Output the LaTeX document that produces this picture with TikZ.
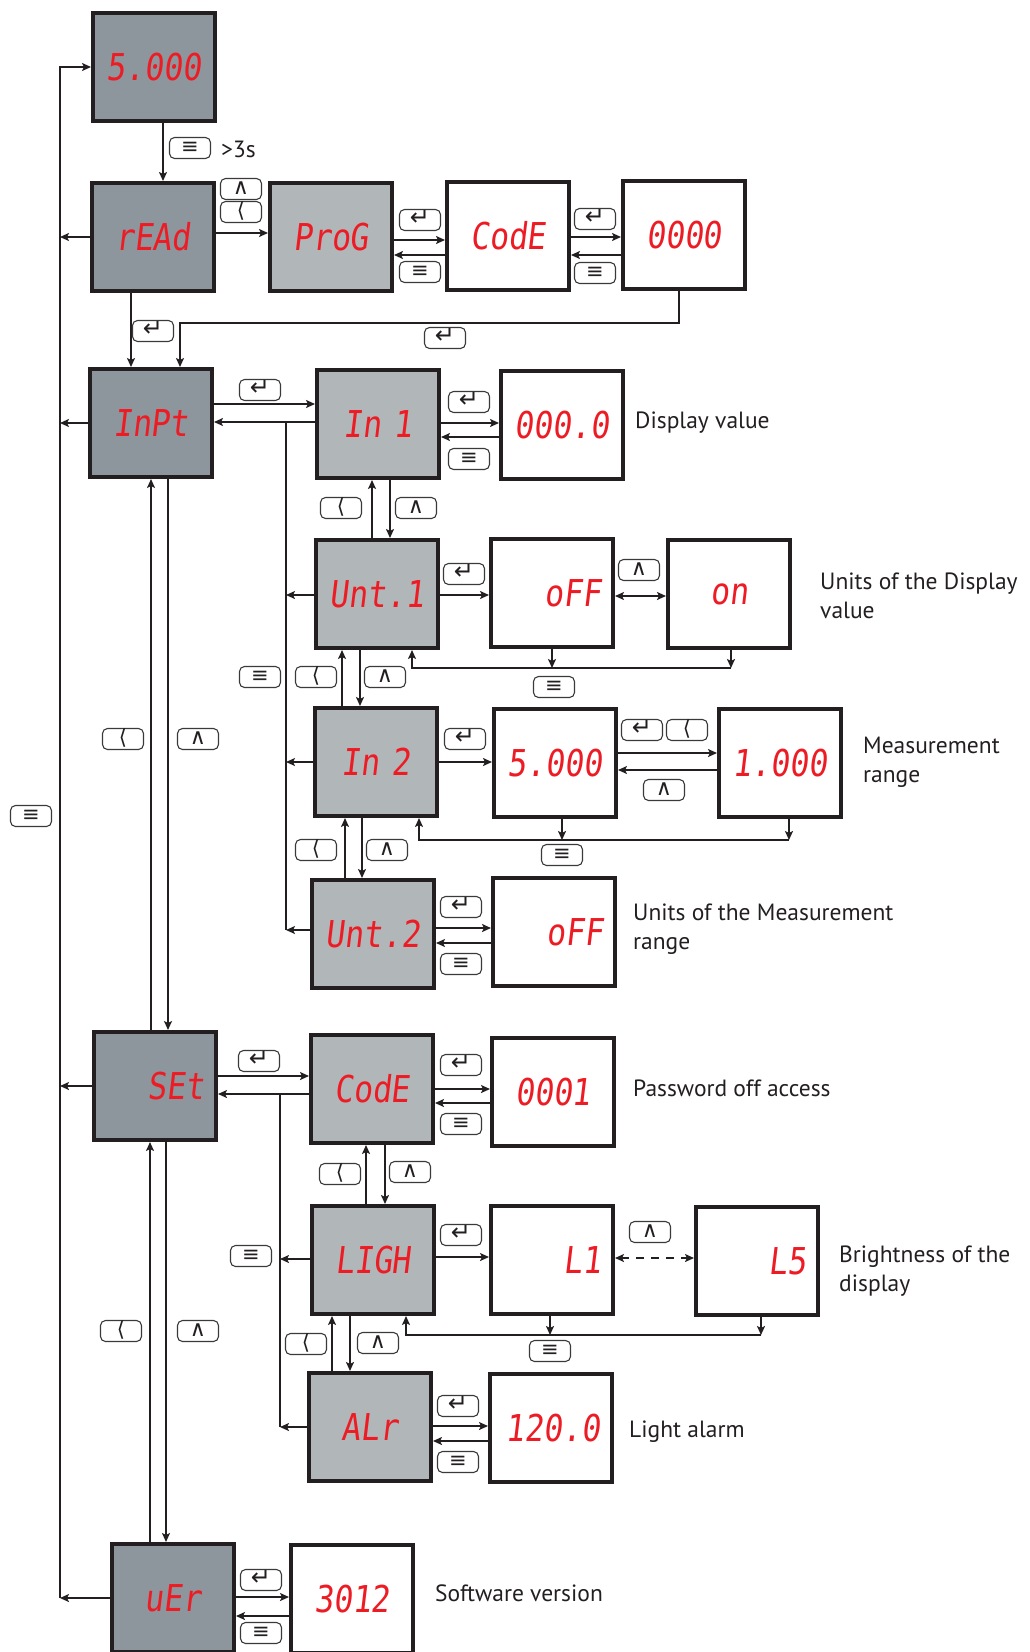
\documentclass[tikz,border=0pt]{standalone}
\usepackage{fontspec}
\setmainfont{PT Sans}
\newfontfamily\segfamily{DejaVu Sans Mono}[FakeStretch=0.85,FakeSlant=0.12]
\newfontfamily\keyfamily{DejaVu Sans}
\usepackage{tikz}
\usetikzlibrary{arrows.meta}
\definecolor{LineDark}{HTML}{231F20}
\definecolor{PanelDark}{HTML}{8D969D}
\definecolor{PanelLight}{HTML}{B1B6B9}
\definecolor{SegRed}{HTML}{ED1C24}
\definecolor{KeyEdge}{HTML}{3A3A3A}
\newcommand{\segfont}{\segfamily\fontsize{37}{37}\selectfont}
\newcommand{\keyfont}{\keyfamily\fontsize{19}{19}\selectfont}
\newcommand{\notefont}{\fontsize{23.5}{29}\selectfont}
\newcommand{\kmenu}{{\fontsize{21}{21}\selectfont ≡}}
\newcommand{\kenter}{{\fontsize{24}{24}\selectfont ↵}}
\newcommand{\kup}{{\fontsize{22}{22}\selectfont ∧}}
\newcommand{\kleft}{{\fontsize{21}{21}\selectfont ⟨}}

\begin{document}
\begin{tikzpicture}[
  x=1pt, y=-1pt,
  >={Stealth[length=9pt,width=8pt,inset=2pt]},
  box/.style={draw=LineDark, line width=4pt, minimum width=122pt, minimum height=108pt,
    text width=98pt, inner xsep=12pt, align=center, font=\segfont, text=SegRed, fill=white},
  topbox/.style={box, fill=PanelDark},
  subbox/.style={box, fill=PanelLight},
  key/.style={draw=KeyEdge, line width=1.1pt, rounded corners=5pt, minimum width=41pt,
    minimum height=21pt, text height=10pt, text depth=0pt, inner sep=0pt, font=\keyfont, text=LineDark, fill=white},
  arrow/.style={->, line width=1.8pt, draw=LineDark},
  twoway/.style={<->, line width=1.8pt, draw=LineDark},
  note/.style={anchor=west, align=left, inner sep=0pt, font=\notefont, text=LineDark}
]
\useasboundingbox (0,0) rectangle (1029,1652);

\node[topbox] (s5000) at (154,67) {5.000};
\node[topbox] (rEAd) at (153,237) {rEAd};
\node[subbox] (ProG) at (331,237) {ProG};
\node[box] (CodEa) at (508,236) {CodE};
\node[box] (pass) at (684,235) {0000};

\node[topbox] (InPt) at (151,423) {InPt};
\node[subbox] (InA) at (378,424) {In 1};
\node[box] (dispv) at (562,425) {000.0};
\node[subbox] (UntA) at (377,594) {Unt.1};
\node[box, align=right] (offA) at (552,593) {oFF};
\node[box] (onA) at (729,594) {on};
\node[subbox] (InB) at (376,762) {In 2};
\node[box] (rngA) at (555,763) {5.000};
\node[box] (rngB) at (780,763) {1.000};
\node[subbox] (UntB) at (373,934) {Unt.2};
\node[box, align=right] (offB) at (554,932) {oFF};

\node[topbox, align=right] (SEt) at (155,1086) {SEt};
\node[subbox] (CodEb) at (372,1089) {CodE};
\node[box] (pw) at (553,1092) {0001};
\node[subbox] (LIGH) at (373,1260) {LIGH};
\node[box, align=right] (lvA) at (552,1260) {L1};
\node[box, align=right] (lvB) at (757,1261) {L5};
\node[subbox] (ALr) at (370,1427) {ALr};
\node[box, align=right] (alm) at (551,1428) {120.0};

\node[topbox] (uEr) at (173,1598) {uEr};
\node[box] (ver) at (352,1599) {3012};

% return line on the left
\coordinate (back) at (60,0);
\draw[arrow] (uEr.west) -- (uEr.west -| back);
\draw[arrow] (uEr.west -| back) -- (back |- s5000.west) -- (s5000.west);
\draw[arrow] (rEAd.west) -- (rEAd.west -| back);
\draw[arrow] (InPt.west) -- (InPt.west -| back);
\draw[arrow] (SEt.west) -- (SEt.west -| back);

\draw[arrow] (163,0 |- s5000.south) -- (163,0 |- rEAd.north);
\draw[arrow] (rEAd.east |- 0,233) -- (ProG.west |- 0,233);
\draw[arrow] (ProG.east |- 0,240) -- (CodEa.west |- 0,240);
\draw[arrow] (CodEa.west |- 0,255) -- (ProG.east |- 0,255);
\draw[arrow] (CodEa.east |- 0,237) -- (pass.west |- 0,237);
\draw[arrow] (pass.west |- 0,255) -- (CodEa.east |- 0,255);
\coordinate (busA) at (180,323);
\draw[arrow] (679,0 |- pass.south) |- (busA) -- (busA |- InPt.north);
\draw[arrow] (131,0 |- rEAd.south) -- (131,0 |- InPt.north);

% input menu
\draw[arrow] (InPt.east |- 0,404) -- (InA.west |- 0,404);
\draw[arrow] (InA.west |- 0,422) -- (InPt.east |- 0,422);
\coordinate (busB) at (286,422);
\draw[line width=1.8pt, LineDark] (busB) -- (busB |- 0,930);
\draw[arrow] (InA.east |- 0,423) -- (dispv.west |- 0,423);
\draw[arrow] (dispv.west |- 0,437) -- (InA.east |- 0,437);
\draw[arrow] (372,0 |- UntA.north) -- (372,0 |- InA.south);
\draw[arrow] (390,0 |- InA.south) -- (390,0 |- UntA.north);
\draw[arrow] (UntA.west |- 0,595) -- (busB |- 0,595);
\draw[arrow] (UntA.east |- 0,595) -- (offA.west |- 0,595);
\draw[twoway] (offA.east |- 0,596) -- (onA.west |- 0,596);
\coordinate (retA) at (412,668);
\draw[arrow] (offA.south) -- (offA.south |- retA);
\draw[arrow] (731,0 |- onA.south) -- (731,0 |- retA);
\draw[arrow] (731,0 |- retA) -- (retA) -- (retA |- UntA.south);
\draw[arrow] (342,0 |- InB.north) -- (342,0 |- UntA.south);
\draw[arrow] (360,0 |- UntA.south) -- (360,0 |- InB.north);
\draw[arrow] (InB.west |- 0,762) -- (busB |- 0,762);
\draw[arrow] (InB.east |- 0,762) -- (rngA.west |- 0,762);
\draw[arrow] (rngA.east |- 0,753) -- (rngB.west |- 0,753);
\draw[arrow] (rngB.west |- 0,770) -- (rngA.east |- 0,770);
\coordinate (retB) at (419,840);
\draw[arrow] (562,0 |- rngA.south) -- (562,0 |- retB);
\draw[arrow] (789,0 |- rngB.south) -- (789,0 |- retB);
\draw[arrow] (789,0 |- retB) -- (retB) -- (retB |- InB.south);
\draw[arrow] (345,0 |- UntB.north) -- (345,0 |- InB.south);
\draw[arrow] (362,0 |- InB.south) -- (362,0 |- UntB.north);
\draw[arrow] (UntB.west |- 0,930) -- (busB |- 0,930);
\draw[arrow] (UntB.east |- 0,928) -- (offB.west |- 0,928);
\draw[arrow] (offB.west |- 0,943) -- (UntB.east |- 0,943);

\draw[arrow] (151,0 |- SEt.north) -- (151,0 |- InPt.south);
\draw[arrow] (168,0 |- InPt.south) -- (168,0 |- SEt.north);

% setup menu
\draw[arrow] (SEt.east |- 0,1076) -- (CodEb.west |- 0,1076);
\draw[arrow] (CodEb.west |- 0,1094) -- (SEt.east |- 0,1094);
\coordinate (busC) at (280,1094);
\draw[line width=1.8pt, LineDark] (busC) -- (busC |- 0,1427);
\draw[arrow] (CodEb.east |- 0,1089) -- (pw.west |- 0,1089);
\draw[arrow] (pw.west |- 0,1103) -- (CodEb.east |- 0,1103);
\draw[arrow] (366,0 |- LIGH.north) -- (366,0 |- CodEb.south);
\draw[arrow] (385,0 |- CodEb.south) -- (385,0 |- LIGH.north);
\draw[arrow] (LIGH.west |- 0,1259) -- (busC |- 0,1259);
\draw[arrow] (LIGH.east |- 0,1257) -- (lvA.west |- 0,1257);
\draw[twoway, line width=2.4pt, dash pattern=on 8pt off 7pt] (lvA.east |- 0,1258) -- (lvB.west |- 0,1258);
\coordinate (retC) at (406,1335);
\draw[arrow] (550,0 |- lvA.south) -- (550,0 |- retC);
\draw[arrow] (761,0 |- lvB.south) -- (761,0 |- retC);
\draw[arrow] (761,0 |- retC) -- (retC) -- (retC |- LIGH.south);
\draw[arrow] (332,0 |- ALr.north) -- (332,0 |- LIGH.south);
\draw[arrow] (350,0 |- LIGH.south) -- (350,0 |- ALr.north);
\draw[arrow] (ALr.west |- 0,1427) -- (busC |- 0,1427);
\draw[arrow] (ALr.east |- 0,1426) -- (alm.west |- 0,1426);
\draw[arrow] (alm.west |- 0,1441) -- (ALr.east |- 0,1441);

\draw[arrow] (150,0 |- uEr.north) -- (150,0 |- SEt.south);
\draw[arrow] (166,0 |- SEt.south) -- (166,0 |- uEr.north);
\draw[arrow] (uEr.east |- 0,1597) -- (ver.west |- 0,1597);
\draw[arrow] (ver.west |- 0,1616) -- (uEr.east |- 0,1616);

% keys
\node[key] (hold) at (190,148) {\kmenu};
\node[key] (upProg) at (241,189) {\kup};
\node[key] (leftProg) at (241,212) {\kleft};
\node[key] (enterCodeA) at (420,220) {\kenter};
\node[key] (menuCodeA) at (420,272) {\kmenu};
\node[key] (enterPass) at (595,219) {\kenter};
\node[key] (menuPass) at (595,273) {\kmenu};
\node[key] (enterInpt) at (153,331) {\kenter};
\node[key] (enterBack) at (445,338) {\kenter};
\node[key] (enterInA) at (260,390) {\kenter};
\node[key] (enterDisp) at (469,402) {\kenter};
\node[key] (menuDisp) at (469,459) {\kmenu};
\node[key] (leftUntA) at (341,508) {\kleft};
\node[key] (upUntA) at (416,508) {\kup};
\node[key] (enterOffA) at (464,574) {\kenter};
\node[key] (upOn) at (639,570) {\kup};
\node[key] (menuOffA) at (554,687) {\kmenu};
\node[key] (menuInpt) at (260,677) {\kmenu};
\node[key] (leftInB) at (316,677) {\kleft};
\node[key] (upInB) at (385,677) {\kup};
\node[key] (enterRngA) at (465,739) {\kenter};
\node[key] (enterRngB) at (642,730) {\kenter};
\node[key] (leftRngB) at (687,730) {\kleft};
\node[key] (upRngA) at (664,790) {\kup};
\node[key] (menuRng) at (562,855) {\kmenu};
\node[key] (leftUntB) at (316,850) {\kleft};
\node[key] (upUntB) at (387,850) {\kup};
\node[key] (enterOffB) at (461,907) {\kenter};
\node[key] (menuOffB) at (461,964) {\kmenu};
\node[key] (leftSet) at (123,739) {\kleft};
\node[key] (upSet) at (198,739) {\kup};
\node[key] (menuHome) at (31,816) {\kmenu};
\node[key] (enterCodeB) at (259,1061) {\kenter};
\node[key] (enterPw) at (461,1065) {\kenter};
\node[key] (menuPw) at (461,1124) {\kmenu};
\node[key] (leftLigh) at (340,1174) {\kleft};
\node[key] (upLigh) at (410,1172) {\kup};
\node[key] (menuSet) at (251,1256) {\kmenu};
\node[key] (enterLvA) at (461,1235) {\kenter};
\node[key] (upLvB) at (650,1232) {\kup};
\node[key] (menuLv) at (550,1351) {\kmenu};
\node[key] (leftAlr) at (306,1344) {\kleft};
\node[key] (upAlr) at (378,1343) {\kup};
\node[key] (enterAlm) at (458,1406) {\kenter};
\node[key] (menuAlm) at (458,1462) {\kmenu};
\node[key] (leftVer) at (121,1331) {\kleft};
\node[key] (upVer) at (198,1331) {\kup};
\node[key] (enterVer) at (261,1580) {\kenter};
\node[key] (menuVer) at (261,1633) {\kmenu};

% descriptions
\node[note] (holdtime) at (221,149) {>3s};
\node[note] (dispnote) at (635,423) {Display value};
\node[note] (unitnote) at (820,596) {Units of the Display\\value};
\node[note] (rngnote) at (863,762) {Measurement\\range};
\node[note] (unitrngnote) at (633,929) {Units of the Measurement\\range};
\node[note] (pwnote) at (633,1088) {Password off access};
\node[note] (lvnote) at (839,1271) {Brightness of the\\display};
\node[note] (almnote) at (629,1432) {Light alarm};
\node[note] (vernote) at (435,1593) {Software version};
\end{tikzpicture}
\end{document}
